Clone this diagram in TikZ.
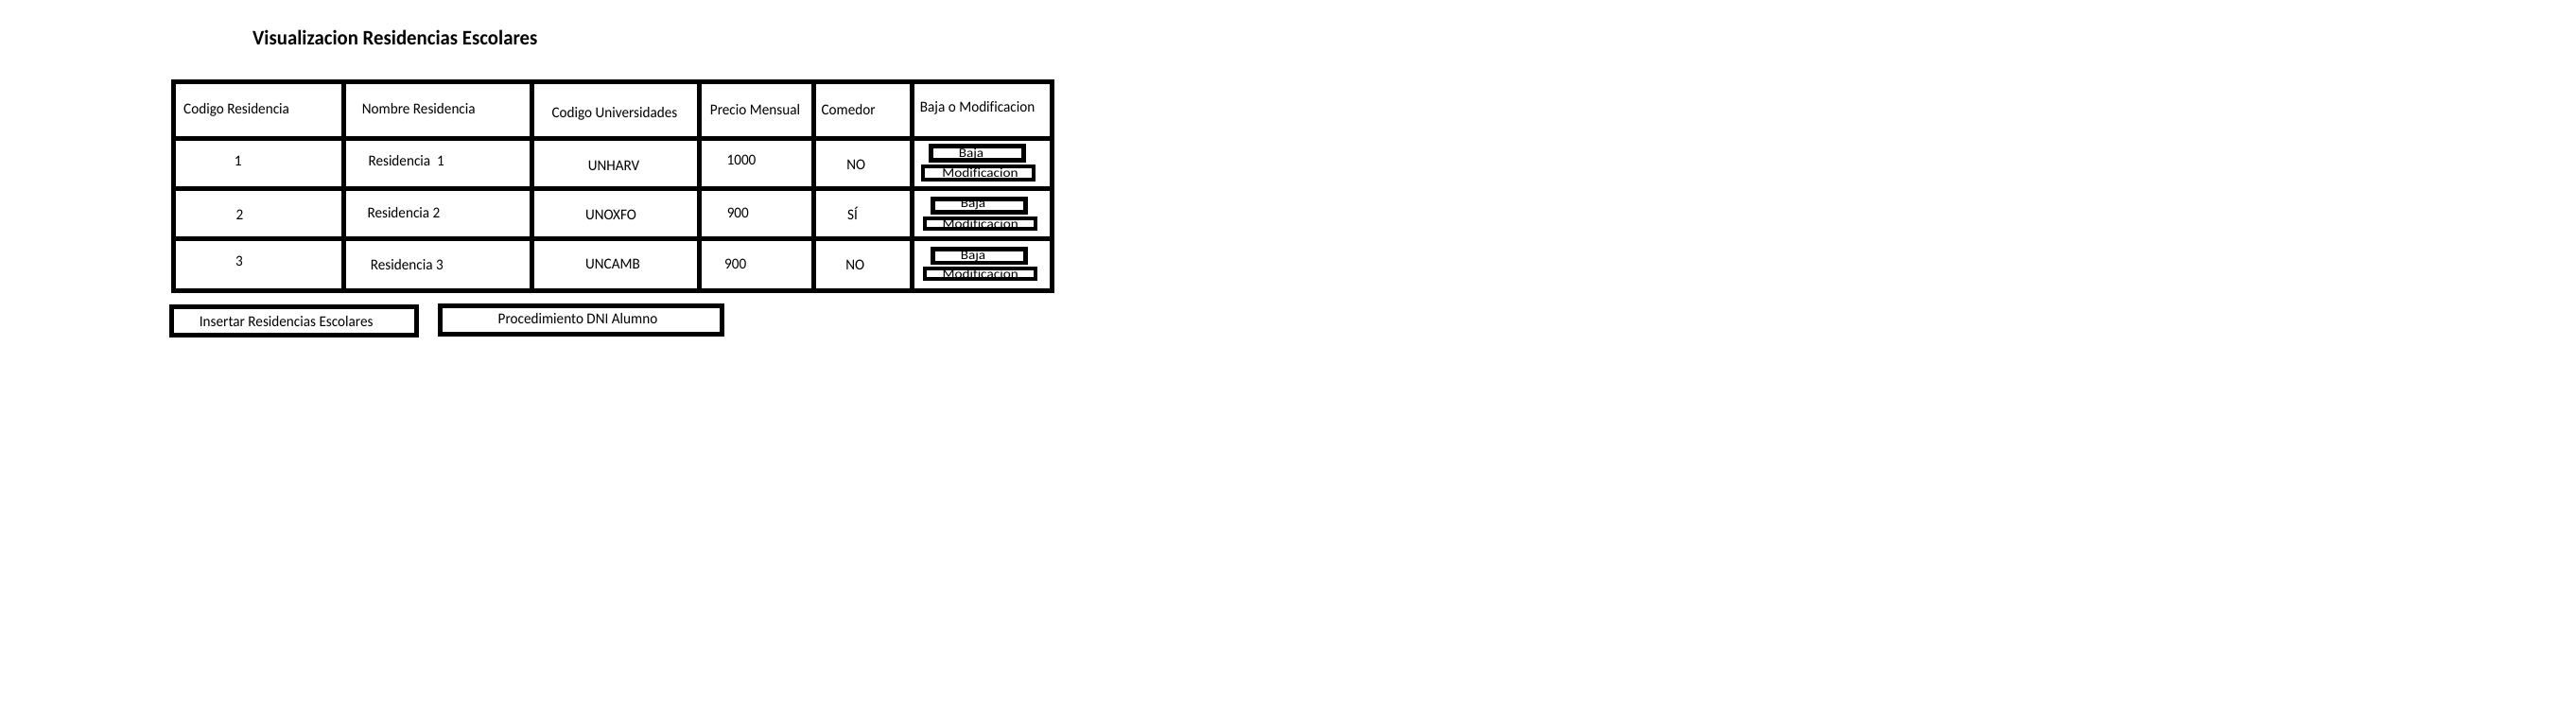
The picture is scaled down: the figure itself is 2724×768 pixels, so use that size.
\documentclass[tikz,border=0pt]{standalone}
\usepackage{fontspec}
\setmainfont[Ligatures=NoCommon,FakeStretch=0.95]{Carlito}
\newfontfamily\btnfont[Ligatures=NoCommon,FakeStretch=1.12]{Carlito}
\begin{document}
\begin{tikzpicture}[x=1pt,y=-1pt,
  grid/.style={line width=4.7pt, line cap=rect},
  txt/.style={inner sep=0pt, font=\fontsize{16}{19}\selectfont, text=black},
  txtw/.style={txt, anchor=base west},
  txtc/.style={txt, anchor=base},
  btntxt/.style={inner sep=0pt, anchor=base, font=\btnfont\fontsize{13.6}{16}\selectfont, text=black},
  bigbtn/.style={draw, line width=4.7pt, inner sep=0pt, rectangle},
  smallbtn/.style={draw, line width=4.4pt, inner sep=0pt, rectangle},
  modbtn/.style={draw, line width=4pt, inner sep=0pt, rectangle},
  titlestyle/.style={inner sep=0pt, anchor=base, font=\fontsize{21.9}{26}\selectfont\bfseries}
]
\useasboundingbox (0,0) rectangle (2724,768);
\fill[white] (0,0) rectangle (2724,768);

% title
\node[titlestyle] (title) at (417.8,47.3) {Visualizacion Residencias Escolares};

% table grid
\draw[grid] (183.6,86.3) rectangle (1112.5,307.3);
\foreach \cx in {363.5,562.4,739.5,860.4,964.5}
  \draw[grid, line cap=butt] (\cx,86.3) -- (\cx,307.3);
\foreach \ry in {146.3,199.4,252.5}
  \draw[grid, line cap=butt] (183.6,\ry) -- (1112.5,\ry);

% header
\node[txtw] (h1) at (194,120.7) {Codigo Residencia};
\node[txtw] (h2) at (382.7,120.7) {Nombre Residencia};
\node[txtw] (h3) at (583.3,124) {Codigo Universidades};
\node[txtw] (h4) at (750.7,121.3) {Precio Mensual};
\node[txtw] (h5) at (868.3,121.3) {Comedor};
\node[txtw] (h6) at (972.7,118.3) {Baja o Modificacion};

% row 1
\node[txtc] (r1c1) at (251.7,175.7) {1};
\node[txtw] (r1c2) at (389.3,175) {Residencia\ \ 1};
\node[txtc] (r1c3) at (649,180) {UNHARV};
\node[txtc] (r1c4) at (784,174.7) {1000};
\node[txtc] (r1c5) at (905.2,179.3) {NO};
% row 2
\node[txtc] (r2c1) at (253.5,232) {2};
\node[txtw] (r2c2) at (388.3,230) {Residencia 2};
\node[txtc] (r2c3) at (646,232) {UNOXFO};
\node[txtc] (r2c4) at (780.3,230.7) {900};
\node[txtc] (r2c5) at (901.5,232) {SÍ};
% row 3
\node[txtc] (r3c1) at (253,281) {3};
\node[txtw] (r3c2) at (391.7,285) {Residencia 3};
\node[txtc] (r3c3) at (648,284) {UNCAMB};
\node[txtc] (r3c4) at (777.7,284.7) {900};
\node[txtc] (r3c5) at (904.3,285.7) {NO};

% small button labels (drawn first, boxes overlay them)
\node[btntxt] (b1t) at (1027,166) {Baja};
\node[btntxt] (m1t) at (1036.5,187.3) {Modificacion};
\node[btntxt] (b2t) at (1029,219.5) {Baja};
\node[btntxt] (m2t) at (1036.7,241) {Modificacion};
\node[btntxt] (b3t) at (1029,274) {Baja};
\node[btntxt] (m3t) at (1036.7,294) {Modificacion};

% small button boxes
\node[smallbtn, minimum width=98pt, minimum height=15pt] (b1) at (1033.3,162) {};
\node[modbtn, minimum width=116.5pt, minimum height=13.7pt] (m1) at (1034.3,182.85) {};
\node[smallbtn, minimum width=98.1pt, minimum height=14.1pt] (b2) at (1035.35,217.35) {};
\node[modbtn, minimum width=116.6pt, minimum height=10.7pt] (m2) at (1036.35,236.35) {};
\node[smallbtn, minimum width=98.1pt, minimum height=14.4pt] (b3) at (1035.35,270.5) {};
\node[modbtn, minimum width=116.6pt, minimum height=11pt] (m3) at (1036.35,289.2) {};

% bottom buttons
\node[bigbtn, minimum width=258.6pt, minimum height=29.6pt] (ins) at (311,339.5) {};
\node[txtw] (inst) at (210.7,345) {Insertar Residencias Escolares};
\node[bigbtn, minimum width=297.8pt, minimum height=30.2pt] (proc) at (614.6,338.4) {};
\node[txtc] (proct) at (611,342.7) {Procedimiento DNI Alumno};
\end{tikzpicture}
\end{document}
